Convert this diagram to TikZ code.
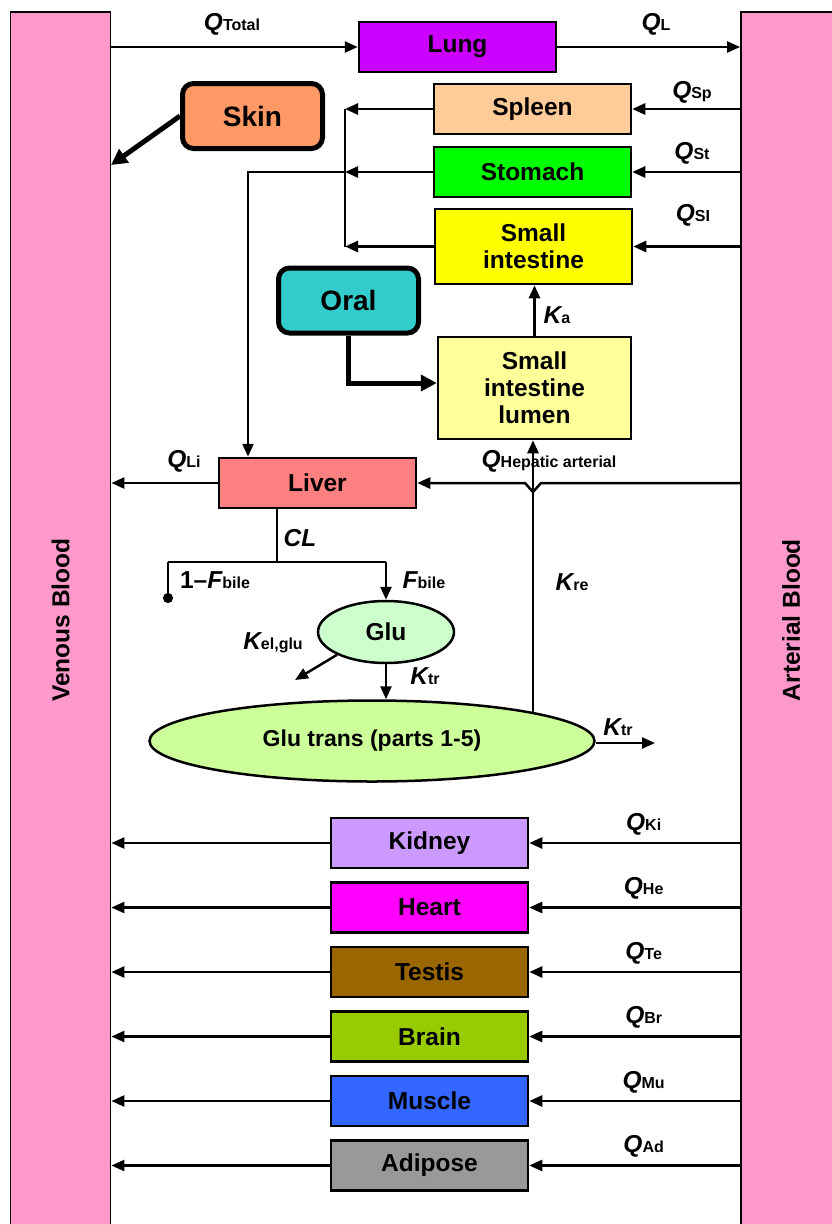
\documentclass[tikz,border=0pt]{standalone}
\usepackage{fontspec}
\setmainfont{Liberation Sans}
\usetikzlibrary{arrows.meta,positioning,shapes.geometric,calc}
\definecolor{pbpkPink}{RGB}{255,153,204}
\definecolor{pbpkPurple}{RGB}{204,0,255}
\definecolor{pbpkSkin}{RGB}{255,153,102}
\definecolor{pbpkSpleen}{RGB}{255,204,153}
\definecolor{pbpkGreen}{RGB}{0,255,0}
\definecolor{pbpkYellow}{RGB}{255,255,0}
\definecolor{pbpkTeal}{RGB}{51,204,204}
\definecolor{pbpkLightYellow}{RGB}{255,255,153}
\definecolor{pbpkSalmon}{RGB}{255,128,128}
\definecolor{pbpkMint}{RGB}{204,255,204}
\definecolor{pbpkLime}{RGB}{204,255,153}
\definecolor{pbpkLilac}{RGB}{204,153,255}
\definecolor{pbpkMagenta}{RGB}{255,0,255}
\definecolor{pbpkBrown}{RGB}{153,102,0}
\definecolor{pbpkOlive}{RGB}{153,204,0}
\definecolor{pbpkBlue}{RGB}{51,102,255}
\definecolor{pbpkGrey}{RGB}{153,153,153}
\newcommand{\orgfont}{\fontsize{24.5}{27}\selectfont\bfseries}
\newcommand{\dosefont}{\fontsize{28}{30}\selectfont\bfseries}
\newcommand{\pk}[2]{{\itshape #1}{\fontsize{16}{16}\selectfont #2}}

\begin{document}
\begin{tikzpicture}[x=1pt,y=-1pt,>={Triangle[length=13pt,width=11pt]},
  organ/.style={draw,line width=2.5pt,minimum width=197pt,minimum height=50pt,inner sep=0pt,font=\orgfont,align=center},
  dosebox/.style={draw,line width=5pt,rounded corners=11pt,minimum width=140pt,minimum height=65pt,font=\dosefont},
  blood/.style={draw,line width=1.8pt,fill=pbpkPink,minimum width=100pt,minimum height=1228pt,inner sep=0pt},
  flow/.style={->,line width=2.5pt},
  bigflow/.style={->,line width=5pt,>={Triangle[length=16pt,width=16pt]}},
  rate/.style={font=\orgfont,inner sep=0pt}]
\useasboundingbox (0,0) rectangle (832,1224);
\fill[white] (0,0) rectangle (832,1224);
% blood pools
\node[blood] (venous) at (60.5,626) {};
\node[blood] (arterial) at (791,626) {};
\node[font=\orgfont,rotate=90] at (venous.center |- 0,620) {Venous Blood};
\node[font=\orgfont,rotate=90] at (arterial.center |- 0,620) {Arterial Blood};
% organs
\node[organ,fill=pbpkPurple] (lung) at (457.5,47) {Lung};
\node[dosebox,fill=pbpkSkin] (skin) at (252.5,116) {Skin};
\node[organ,fill=pbpkSpleen] (spleen) at (532.5,109) {Spleen};
\node[organ,fill=pbpkGreen] (stomach) at (532.5,172) {Stomach};
\node[organ,fill=pbpkYellow,minimum height=75pt] (smint) at (533.5,246.5) {Small\\intestine};
\node[dosebox,fill=pbpkTeal] (oral) at (348.5,300.5) {Oral};
\node[organ,fill=pbpkLightYellow,minimum width=193pt,minimum height=102pt] (lumen) at (534.5,388) {Small\\intestine\\lumen};
\node[organ,fill=pbpkSalmon] (liver) at (317.5,483) {Liver};
\node[organ,ellipse,fill=pbpkMint,minimum width=136pt,minimum height=62pt] (glu) at (386,632) {Glu};
\node[organ,ellipse,fill=pbpkLime,minimum width=445pt,minimum height=81pt,font=\fontsize{23}{25}\selectfont\bfseries] (glutrans) at (372,741) {Glu trans (parts 1-5)};
\node[organ,fill=pbpkLilac] (kidney) at (429.5,843) {Kidney};
\node[organ,fill=pbpkMagenta,below=12pt of kidney] (heart) {Heart};
\node[organ,fill=pbpkBrown,below=12pt of heart] (testis) {Testis};
\node[organ,fill=pbpkOlive,below=12pt of testis] (brain) {Brain};
\node[organ,fill=pbpkBlue,below=12pt of brain] (muscle) {Muscle};
\node[organ,fill=pbpkGrey,below=12pt of muscle] (adipose) {Adipose};
% helper points
\coordinate (skinvb) at (111,165);
\coordinate (portal) at (345,172);
\coordinate (bileL) at (168,562);
\coordinate (clsplit) at (277,562);
\coordinate (bileR) at (glu.north |- clsplit);
\coordinate (reout) at (533,712);
\coordinate (hop) at (reout |- liver.east);
\coordinate (gluout) at (295,680);
\coordinate (trout) at (655,743);
% lung loop
\draw[flow] (lung.west -| venous.east) -- (lung.west);
\draw[flow] (lung.east) -- (lung.east -| arterial.west);
\node[rate] at (232,24) {\pk{Q}{Total}};
\node[rate] at (656,24) {\pk{Q}{L}};
\draw[bigflow] (skin.west) -- (skinvb);
% splanchnic organs
\draw[flow] (spleen.east -| arterial.west) -- (spleen.east);
\draw[flow] (stomach.east -| arterial.west) -- (stomach.east);
\draw[flow] (smint.east -| arterial.west) -- (smint.east);
\node[rate] at (692,92) {\pk{Q}{Sp}};
\node[rate] at (692,153) {\pk{Q}{St}};
\node[rate] at (693,215) {\pk{Q}{SI}};
\draw[flow] (spleen.west) -- (spleen.west -| portal);
\draw[flow] (stomach.west) -- (portal);
\draw[flow] (smint.west) -- (smint.west -| portal);
\draw[line width=2.5pt] (spleen.west -| portal) -- (smint.west -| portal);
\draw[flow] (portal) -| ([xshift=-69.5pt]liver.north);
\draw[bigflow] (oral.south) |- ([yshift=5pt]lumen.west);
\draw[flow] (lumen.north) -- (lumen.north |- smint.south);
\node[rate] at (557,315) {\pk{K}{a}};
% liver
\draw[flow] (liver.west) -- (liver.west -| venous.east);
\node[rate] at (184,461) {\pk{Q}{Li}};
\draw[flow] (liver.east -| arterial.west) -- ([xshift=8pt]hop) -- ([yshift=-9pt]hop) -- ([xshift=-8pt]hop) -- (liver.east);
\node[rate] at (549,461) {\pk{Q}{Hepatic arterial}};
\draw[flow] (reout) -- (reout |- lumen.south);
\node[rate] at (572,582) {\pk{K}{re}};
\draw[line width=2.5pt] (liver.south -| clsplit) -- (clsplit);
\node[rate] at (300,538) {\textit{CL}};
\draw[line width=2.5pt] (bileL) -- (bileR);
\draw[line width=2.5pt,-{Circle[length=10pt]}] (bileL) -- ++(0,41);
\node[rate] at (215,580) {1–\pk{F}{bile}};
\draw[flow] (bileR) -- (glu.north);
\node[rate] at (424,580) {\pk{F}{bile}};
\draw[flow] (glu.south west) -- (gluout);
\node[rate] at (273,643) {\pk{K}{el,glu}};
\draw[flow] (glu.south) -- (glu.south |- glutrans.north);
\node[rate] at (425,676) {\pk{K}{tr}};
\draw[flow] (glutrans.east |- trout) -- (trout);
\node[rate] at (618,727) {\pk{K}{tr}};
% peripheral organs
\foreach \org/\lab in {kidney/Ki,heart/He,testis/Te,brain/Br,muscle/Mu,adipose/Ad} {
  \draw[flow] (\org.east -| arterial.west) -- (\org.east);
  \draw[flow] (\org.west) -- (\org.west -| venous.east);
  \node[rate] at ($(\org.east)!0.5!(\org.east -| arterial.west)+(9,-19)$) {\pk{Q}{\lab}};
}
\end{tikzpicture}
\end{document}
